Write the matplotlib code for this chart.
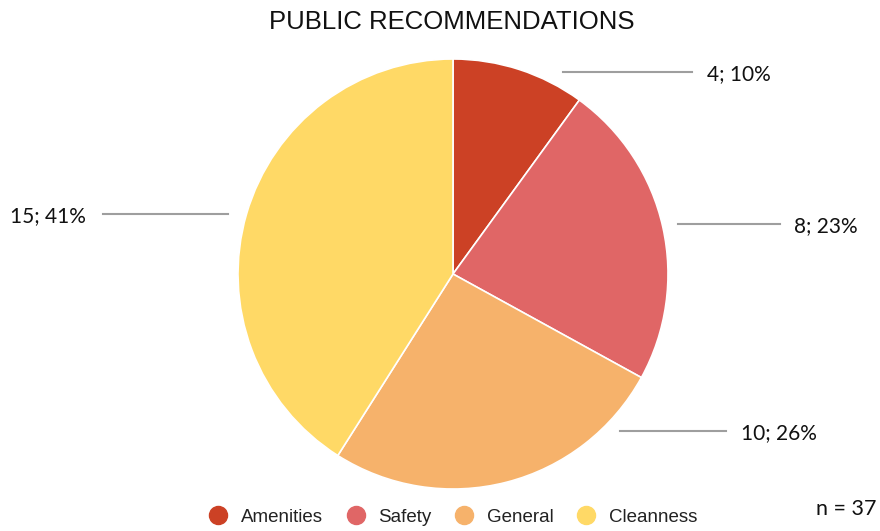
import matplotlib
matplotlib.use("Agg")
import matplotlib.pyplot as plt
from matplotlib.lines import Line2D

# Data
categories = ["Amenities", "Safety", "General", "Cleanness"]
counts = [4, 8, 10, 15]
percents = [10, 23, 26, 41]
colors = ["#cc4125", "#e06666", "#f6b26b", "#ffd966"]
total_n = 37

W, H = 880, 531
fig = plt.figure(figsize=(W / 100, H / 100), dpi=100)

# pie axes: centre (453, 274) px, radius 215 px
cx, cy, r = 453, 274, 215
ax = fig.add_axes([(cx - r) / W, (H - cy - r) / H, 2 * r / W, 2 * r / H])
ax.pie(percents, colors=colors, startangle=90, counterclock=False,
       radius=1.0, wedgeprops=dict(edgecolor="white", linewidth=1.2))
ax.set_xlim(-1, 1)
ax.set_ylim(-1, 1)
ax.set_aspect("equal")
ax.axis("off")

# label layout in pixels: (line start x, line end x, line y, text x, ha)
label_layout = [
    (563, 692, 72, 707, "left"),
    (678, 780, 224, 794, "left"),
    (620, 726, 431, 741, "left"),
    (228, 103, 214, 86, "right"),
]

def fx(px):
    return px / W

def fy(py):
    return 1 - py / H

label_font = ["Lato", "DejaVu Sans"]

for (x0, x1, yl, xt, ha), c, p in zip(label_layout, counts, percents):
    fig.add_artist(Line2D([fx(x0), fx(x1)], [fy(yl), fy(yl)],
                          transform=fig.transFigure, color="#9e9e9e", lw=1.5))
    fig.text(fx(xt), fy(yl + 2), f"{c}; {p}%", ha=ha, va="center",
             fontsize=15, family=label_font, color="#111111")

fig.text(fx(452), fy(22), "PUBLIC RECOMMENDATIONS", ha="center", va="center",
         fontsize=18.5, family=["Liberation Sans", "DejaVu Sans"],
         color="#111111")

handles = [Line2D([], [], marker="o", linestyle="none", markersize=13,
                  markerfacecolor=col, markeredgecolor=col) for col in colors]
fig.legend(handles, categories, loc="center", bbox_to_anchor=(fx(453), fy(517)),
           ncol=4, frameon=False, handlelength=1.0, handletextpad=0.7,
           columnspacing=1.25,
           prop={"family": ["Liberation Sans", "DejaVu Sans"], "size": 13.5},
           labelcolor="#222222")

fig.text(fx(876), fy(509), f"n = {total_n}", ha="right", va="center",
         fontsize=15.5, family=label_font, color="#111111")

fig.savefig("out.png", dpi=100)
